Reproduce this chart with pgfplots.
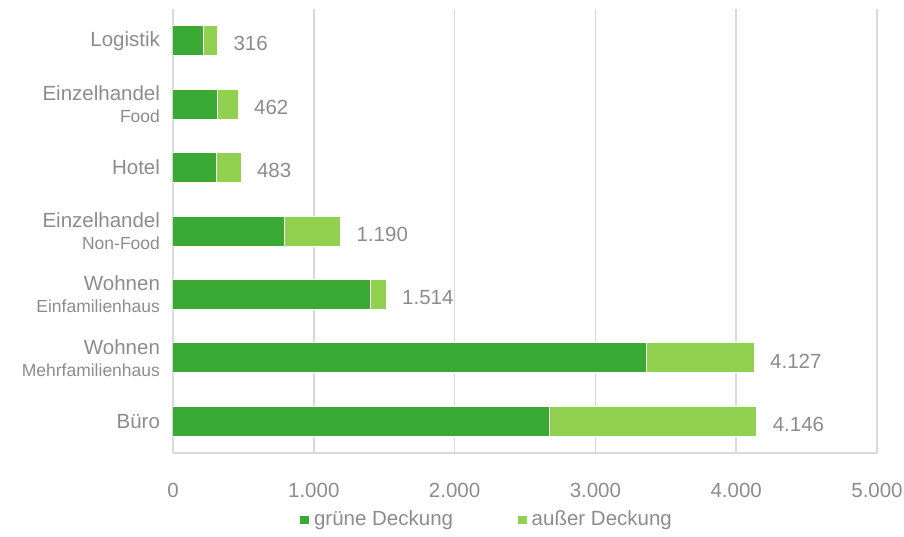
\documentclass[border=0pt]{standalone}
\usepackage{pgfplots}
\pgfplotsset{compat=1.18}
\usepackage{fontspec}
\setmainfont{Liberation Sans}
\definecolor{dgreen}{HTML}{3BAA35}
\definecolor{lgreen}{HTML}{92D050}
\definecolor{txt}{HTML}{8C8C8C}
\definecolor{grd}{HTML}{D9D9D9}
\newcommand{\sub}[1]{{\fontsize{8.75}{10}\selectfont #1}}
\begin{document}
\begin{tikzpicture}[x=1pt,y=1pt]
\path[use as bounding box] (-86.5,-41.5) rectangle (365.5,226.5);
\begin{axis}[
  at={(0,0)}, anchor=south west,
  width=352pt, height=222pt, scale only axis,
  xbar stacked, bar width=15pt,
  xmin=0, xmax=5000, ymin=-0.5, ymax=6.5,
  enlargelimits=false,
  xtick={0,1000,2000,3000,4000,5000},
  xticklabels={0,1.000,2.000,3.000,4.000,5.000},
  ytick={0,1,2,3,4,5,6},
  yticklabels={B\"uro,{Wohnen\\\sub{Mehrfamilienhaus}},{Wohnen\\\sub{Einfamilienhaus}},{Einzelhandel\\\sub{Non-Food}},Hotel,{Einzelhandel\\\sub{Food}},Logistik},
  yticklabel style={align=right, font=\fontsize{10.25}{11}\selectfont, text=txt, xshift=-3pt},
  xticklabel style={font=\fontsize{10.25}{11}\selectfont, text=txt, yshift=-11.5pt},
  major tick length=0pt,
  xmajorgrids, major grid style={draw=grd, line width=0.75pt},
  axis x line*=bottom, axis y line*=left,
  x axis line style={draw=grd, line width=0.75pt, -},
  y axis line style={draw=none},
  legend columns=2,
  legend style={at={(0.447,-0.151)}, anchor=center, draw=none, fill=none,
    font=\fontsize{10.25}{11}\selectfont, text=txt,
    /tikz/every even column/.append style={column sep=30pt}},
  legend image code/.code={\fill[#1] (0pt,-2.4pt) rectangle (4.8pt,2.4pt);},
]
\addplot[fill=dgreen, draw=white, line width=0.5pt] coordinates {
 (2677,0) (3360,1) (1406,2) (789,3) (307,4) (314,5) (215,6)};
\addplot[fill=lgreen, draw=white, line width=0.5pt] coordinates {
 (1469,0) (767,1) (108,2) (401,3) (176,4) (148,5) (101,6)};
\legend{gr\"une Deckung, au\ss er Deckung}
\end{axis}
\begin{axis}[
  at={(0,0)}, anchor=south west,
  width=352pt, height=222pt, scale only axis,
  xmin=0, xmax=5000, ymin=-0.5, ymax=6.5,
  enlargelimits=false, hide axis,
  nodes near coords style={font=\fontsize{10.25}{11}\selectfont, text=txt, anchor=west, xshift=4.5pt, yshift=-1.5pt},
]
\addplot[only marks, mark=none, nodes near coords, point meta=explicit symbolic] coordinates {
 (4146,0) [4.146] (4127,1) [4.127] (1514,2) [1.514] (1190,3) [1.190] (483,4) [483] (462,5) [462] (316,6) [316]};
\end{axis}
\end{tikzpicture}
\end{document}
